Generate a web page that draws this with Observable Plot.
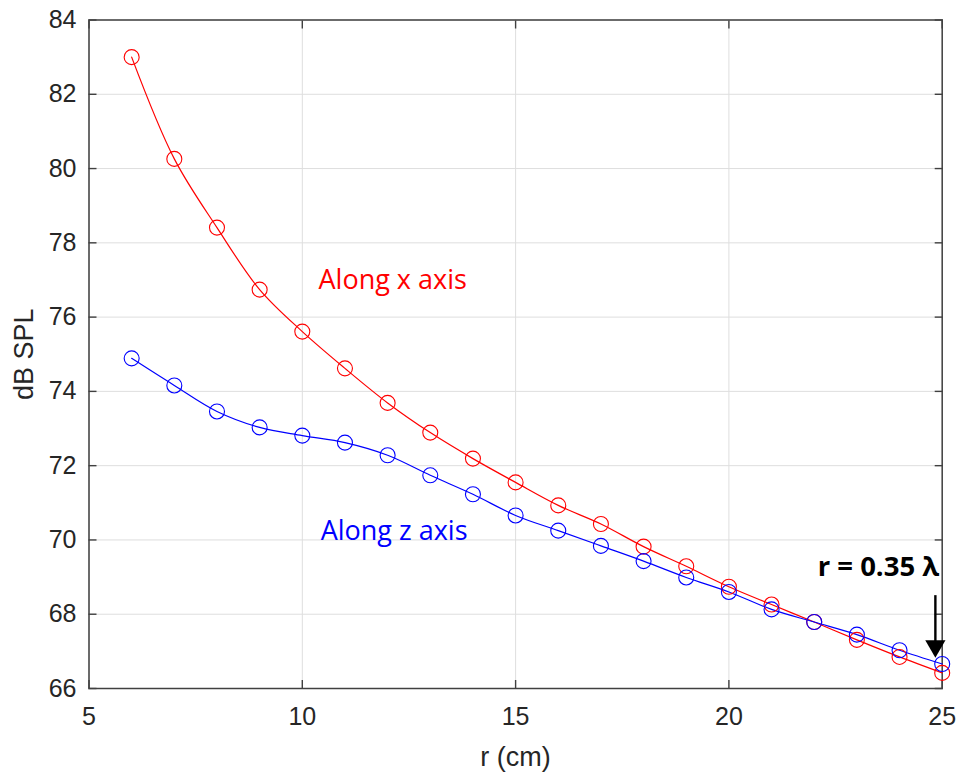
<!DOCTYPE html>
<html>
<head>
<meta charset="utf-8">
<script src="https://cdn.jsdelivr.net/npm/d3@7"></script>
<script src="https://cdn.jsdelivr.net/npm/@observablehq/plot@0.6"></script>
<style>
  html, body { margin: 0; padding: 0; background: #ffffff; }
  #chart svg { display: block; }
</style>
</head>
<body>
<div id="chart"></div>
<script>
// ---- Data ----
const rValues = [6, 7, 8, 9, 10, 11, 12, 13, 14, 15, 16, 17, 18, 19, 20, 21, 22, 23, 24, 25];
const alongX = [83.0, 80.26, 78.41, 76.74, 75.61, 74.62, 73.69, 72.89, 72.19, 71.55, 70.93, 70.43, 69.82, 69.29, 68.74, 68.26, 67.79, 67.31, 66.85, 66.42];
const alongZ = [74.89, 74.16, 73.46, 73.03, 72.81, 72.62, 72.28, 71.74, 71.23, 70.66, 70.25, 69.84, 69.43, 68.99, 68.60, 68.13, 67.79, 67.45, 67.03, 66.66];
const xTicks = [5, 10, 15, 20, 25];
const yTicks = [66, 68, 70, 72, 74, 76, 78, 80, 82, 84];
const seriesNames = ["Along x axis", "Along z axis"];
const seriesColors = ["#ff0000", "#0000ff"];
// annotation anchors (data units)
const labelX = [10.38, 10.43];
const labelY = [76.77, 70.0];
const noteText = ["r = 0.35 λ"];
const noteX = [24.93];
const noteY = [69.04];
const arrowX = [24.84];
const arrowFrom = [68.5];
const arrowHead = [67.14];

const rows = [];
rValues.forEach((r, i) => {
  rows.push({r, spl: alongX[i], series: seriesNames[0]});
  rows.push({r, spl: alongZ[i], series: seriesNames[1]});
});
const labels = seriesNames.map((name, i) => ({name, x: labelX[i], y: labelY[i], color: seriesColors[i]}));
const note = noteText.map((t, i) => ({t, x: noteX[i], y: noteY[i]}));
const arrow = arrowX.map((x, i) => ({x, y1: arrowFrom[i], y2: arrowHead[i]}));

const tickFont = "Liberation Sans, Arial, sans-serif";
const annFont = "Open Sans, sans-serif";

const chart = Plot.plot({
  width: 959,
  height: 773,
  marginLeft: 88.5,
  marginRight: 17.3,
  marginTop: 19.5,
  marginBottom: 85,
  style: {fontFamily: tickFont, background: "#ffffff", color: "#262626"},
  x: {domain: [5, 25], ticks: xTicks},
  y: {domain: [66, 84], ticks: yTicks},
  color: {domain: seriesNames, range: seriesColors},
  marks: [
    Plot.gridX(xTicks, {stroke: "#dedede", strokeOpacity: 1, strokeWidth: 1}),
    Plot.gridY(yTicks, {stroke: "#dedede", strokeOpacity: 1, strokeWidth: 1}),
    // tick labels
    Plot.axisX(xTicks, {anchor: "bottom", tickSize: 0, tickPadding: 19, fontSize: 25, fill: "#262626", label: null}),
    Plot.axisY(yTicks, {anchor: "left", tickSize: 0, tickPadding: 12.5, fontSize: 25, fill: "#262626", label: null}),
    // axis labels
    Plot.axisX([], {anchor: "bottom", tickSize: 0, label: "r (cm)", labelAnchor: "center", labelOffset: 77, fontSize: 27, fill: "#262626", labelArrow: "none"}),
    Plot.axisY([], {anchor: "left", tickSize: 0, label: "dB SPL", labelAnchor: "center", labelOffset: 75, fontSize: 27, fill: "#262626", labelArrow: "none"}),
    // inward ticks on all sides
    Plot.axisX(xTicks, {anchor: "bottom", tickSize: -8, text: null, label: null, stroke: "#404040", strokeWidth: 1.4}),
    Plot.axisX(xTicks, {anchor: "top", tickSize: -8, text: null, label: null, stroke: "#404040", strokeWidth: 1.4}),
    Plot.axisY(yTicks, {anchor: "left", tickSize: -8, text: null, label: null, stroke: "#404040", strokeWidth: 1.4}),
    Plot.axisY(yTicks, {anchor: "right", tickSize: -8, text: null, label: null, stroke: "#404040", strokeWidth: 1.4}),
    Plot.frame({stroke: "#404040", strokeWidth: 1.5}),
    Plot.line(rows, {x: "r", y: "spl", z: "series", stroke: "series", strokeWidth: 1.2, curve: "catmull-rom"}),
    Plot.dot(rows, {x: "r", y: "spl", stroke: "series", fill: "none", r: 7.5, strokeWidth: 1.1}),
    Plot.text(labels, {x: "x", y: "y", text: "name", fill: "color", textAnchor: "start", lineAnchor: "bottom", fontSize: 27, fontFamily: annFont}),
    Plot.text(note, {x: "x", y: "y", text: "t", fill: "#000000", textAnchor: "end", lineAnchor: "bottom", fontSize: 27.5, fontWeight: "bold", fontFamily: annFont}),
    Plot.ruleX(arrow, {x: "x", y1: "y1", y2: "y2", stroke: "#000000", strokeWidth: 2.4}),
    Plot.dot(arrow, {x: "x", y: "y2", symbol: "triangle", r: 7.5, fill: "#000000", stroke: "none", rotate: 180})
  ]
});
document.getElementById("chart").appendChild(chart);
</script>
</body>
</html>
